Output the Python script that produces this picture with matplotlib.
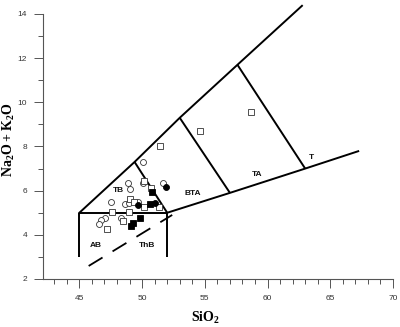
# TAS (total alkali vs silica) diagram with sample points
import numpy as np  # numerical operations
import matplotlib
matplotlib.use('Agg')
import matplotlib.pyplot as plt  # plotting library
from matplotlib.ticker import MultipleLocator

# serif bold for the axis titles (mathtext so we get the subscripts)
plt.rcParams['mathtext.fontset'] = 'custom'
plt.rcParams['mathtext.rm'] = 'Liberation Serif'
plt.rcParams['mathtext.bf'] = 'Liberation Serif:bold'

# Field boundaries (SiO2, Na2O+K2O)
upper_x = [45, 49.4, 53, 57.6, 62.8]
upper_y = [5, 7.3, 9.3, 11.7, 14.4]
lower_x = [52, 57, 63, 67.3]
lower_y = [5, 5.9, 7, 7.8]
box_x = [45, 45, 52, 52]
box_y = [3, 5, 5, 3]
div_tb_x, div_tb_y = [49.4, 52], [7.3, 5]
div_bta_x, div_bta_y = [53, 57], [9.3, 5.9]
div_ta_x, div_ta_y = [57.6, 63], [11.7, 7]
dash_x = [45.74, 52.4]
dash_y = [2.59, 4.9]

# Field names
field_names = ['TB', 'BTA', 'TA', 'T', 'AB', 'ThB']
field_x = [48.1, 54.05, 59.2, 63.5, 46.3, 50.4]
field_y = [6.0, 5.85, 6.75, 7.5, 3.5, 3.5]

# Samples
open_circle_x = [50.08, 48.85, 49.06, 50.08, 51.67, 47.53, 48.67, 48.93, 49.70,
                 47.07, 46.75, 46.55, 48.32]
open_circle_y = [7.32, 6.36, 6.06, 6.36, 6.33, 5.50, 5.40, 5.43, 5.49,
                 4.78, 4.65, 4.49, 4.78]
open_square_x = [51.45, 54.64, 58.68, 49.01, 48.93, 47.61, 47.19, 48.48,
                 50.18, 51.32, 49.38, 50.14, 50.70]
open_square_y = [8.04, 8.70, 9.56, 5.61, 5.05, 5.02, 4.26, 4.63,
                 5.27, 5.27, 5.50, 6.42, 6.10]
filled_circle_x = [51.93, 49.65, 51.06]
filled_circle_y = [6.15, 5.35, 5.43]
filled_square_x = [50.79, 50.66, 49.86, 49.28, 49.12]
filled_square_y = [5.95, 5.40, 4.75, 4.52, 4.40]

fig = plt.figure(figsize=(4, 3.27), dpi=100)
ax = fig.add_axes([0.1075, 0.1468, 0.875, 0.8104])

# boundary lines (drawn past the top of the axis, so no clipping)
lw = 1.4
for xs, ys in [(upper_x, upper_y), (lower_x, lower_y), (box_x, box_y),
               (div_tb_x, div_tb_y), (div_bta_x, div_bta_y), (div_ta_x, div_ta_y)]:
    ax.plot(xs, ys, color='black', linewidth=lw, clip_on=False,
            solid_capstyle='butt', zorder=2)
ax.plot(dash_x, dash_y, color='black', linewidth=1.3, dashes=(9, 6.5), zorder=2)

# field labels
for name, fx, fy in zip(field_names, field_x, field_y):
    ax.text(fx, fy, name, fontsize=6, fontweight='bold', family='Liberation Sans',
            ha='center', va='center', color='#111111')

# samples
ms = 4.3
ax.plot(open_circle_x, open_circle_y, 'o', ms=ms, mfc='white', mec='#333333',
        mew=0.6, ls='none', zorder=3)
ax.plot(open_square_x, open_square_y, 's', ms=ms, mfc='white', mec='#333333',
        mew=0.6, ls='none', zorder=3)
ax.plot(filled_circle_x, filled_circle_y, 'o', ms=ms, mfc='black', mec='black',
        mew=0.6, ls='none', zorder=4)
ax.plot(filled_square_x, filled_square_y, 's', ms=ms, mfc='black', mec='black',
        mew=0.6, ls='none', zorder=4)

# axes
ax.set_xlim(42.1, 70)
ax.set_ylim(2, 14)
ax.xaxis.set_major_locator(MultipleLocator(5))
ax.xaxis.set_minor_locator(MultipleLocator(1))
ax.yaxis.set_major_locator(MultipleLocator(2))
ax.yaxis.set_minor_locator(MultipleLocator(1))
ax.set_xticks(np.arange(45, 71, 5))
ax.spines['top'].set_visible(False)
ax.spines['right'].set_visible(False)
for s in ['left', 'bottom']:
    ax.spines[s].set_color('#555555')
    ax.spines[s].set_linewidth(0.8)
ax.tick_params(which='major', length=6.5, width=0.7, color='#555555',
               labelsize=6, labelcolor='#333333', pad=5)
ax.tick_params(which='minor', length=3.5, width=0.7, color='#555555')
for lab in ax.get_xticklabels() + ax.get_yticklabels():
    lab.set_family('Liberation Sans')

ax.set_xlabel(r'$\mathbf{SiO_2}$', fontsize=10)
ax.set_ylabel(r'$\mathbf{Na_2O + K_2O}$', fontsize=10)
ax.xaxis.set_label_coords(0.463, -0.118)
ax.yaxis.set_label_coords(-0.074, 0.525)

plt.savefig('out.png', dpi=100)
plt.close('all')
